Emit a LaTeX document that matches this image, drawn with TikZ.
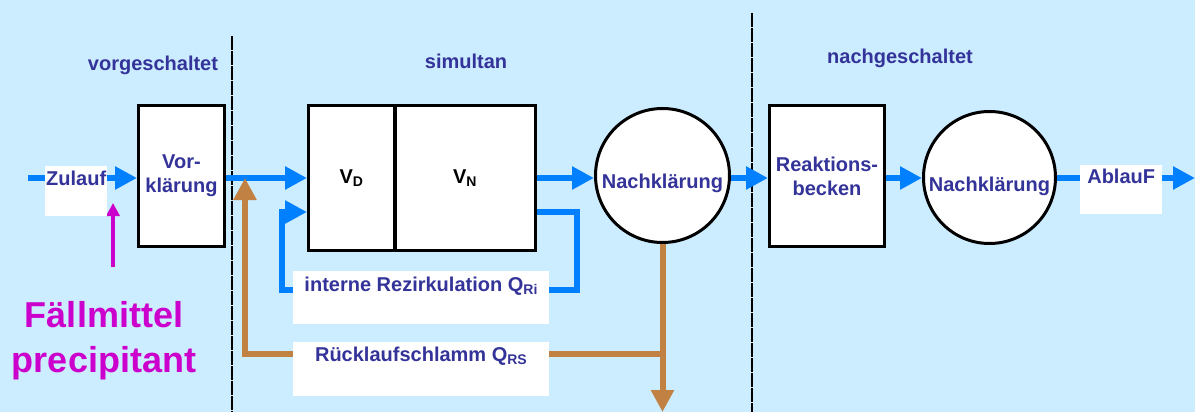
\documentclass[tikz,border=0pt]{standalone}
\usepackage{fontspec}
\setmainfont{Liberation Sans}
\usetikzlibrary{arrows.meta}
\definecolor{bgblue}{RGB}{204,236,255}
\definecolor{txtblue}{RGB}{51,51,153}
\definecolor{flowblue}{RGB}{0,128,255}
\definecolor{rsbrown}{RGB}{193,129,66}
\definecolor{dosing}{RGB}{204,0,204}
\newcommand{\lbl}{\fontsize{20}{24}\selectfont\bfseries}
\tikzset{
  tank/.style={draw=black, line width=3pt, fill=white, align=center, inner sep=0pt, font=\lbl, text=txtblue},
  basin/.style={tank, circle, text height=25pt, text depth=0pt},
  tbox/.style={fill=white, inner sep=0pt, anchor=north west, text height=19pt, text depth=31pt, font=\lbl, text=txtblue},
  zone/.style={anchor=base, inner sep=0pt, font=\lbl, text=txtblue},
  zonesep/.style={draw=black, line width=2.5pt, dash pattern=on 14pt off 1pt},
  flow/.style={draw=flowblue, line width=6pt, -{Triangle[length=22pt,width=22pt]}},
  rsflow/.style={draw=rsbrown, line width=6pt, -{Triangle[length=22pt,width=22pt]}},
  dose/.style={draw=dosing, line width=3.5pt, -{Triangle[length=13pt,width=13pt]}},
}
\begin{document}
\begin{tikzpicture}[x=1pt, y=-1pt]
  \fill[bgblue] (0,0) rectangle (1195,412);
  \useasboundingbox (0,0) rectangle (1195,412);

  \draw[zonesep] (232,36) -- (232,412);
  \draw[zonesep] (752,13) -- (752,412);

  \node[zone] (vorg)  at (153,71) {vorgeschaltet};
  \node[zone] (simu)  at (466,69) {simultan};
  \node[zone] (nachg) at (900,64) {nachgeschaltet};

  \node[tank, minimum width=86pt, minimum height=141pt] (vor) at (181.5,176) {Vor-\\klärung};
  \node[tank, text=black, minimum width=86pt, minimum height=145pt] (vd) at (351.5,178) {V\textsubscript{D}};
  \node[tank, text=black, minimum width=140pt, minimum height=145pt] (vn) at (465,178) {V\textsubscript{N}};
  \node[basin, minimum size=134pt] (nk1) at (662.5,175.5) {Nachklärung};
  \node[tank, minimum width=115pt, minimum height=141pt] (reak) at (827,176) {Reaktions-\\becken};
  \node[basin, minimum size=132pt, text height=27pt] (nk2) at (989.5,177.5) {Nachklärung};

  \coordinate (zin)  at (28,178);
  \coordinate (zout) at (1195,178);
  \coordinate (ri1)  at (577,290);
  \coordinate (ri2)  at (282,290);
  \coordinate (rs)   at (245,354);
  \coordinate (ue)   at (662.5,412);
  \coordinate (fmtail) at (113,267);
  \coordinate (fmtip)  at (113,203);

  \draw[flow] (zin) -- (zin -| vor.west);
  \draw[flow] (zin -| vor.east) -- (zin -| vd.west);
  \draw[flow] (zin -| vn.east) -- (zin -| nk1.west);
  \draw[flow] (zin -| nk1.east) -- (zin -| reak.west);
  \draw[flow] (zin -| reak.east) -- (zin -| nk2.west);
  \draw[flow] (zin -| nk2.east) -- (zout);
  \draw[flow] ([yshift=-34pt]vn.east) -| (ri1) -- (ri2) |- ([yshift=-34pt]vd.west);

  \draw[rsflow] (nk1.south) -- (ue);
  \draw[rsflow] (nk1.south |- rs) -- (rs) -- (rs |- zin);

  \draw[dose] (fmtail) -- (fmtip);

  \node[tbox, minimum width=62pt] (zul) at (45,166) {Zulauf};
  \node[tbox, minimum width=82pt, text height=18pt] (abl) at (1080,165) {AblauF};
  \node[tbox, minimum width=256pt, text height=20pt, text depth=33pt] (rezi) at (293,271) {interne Rezirkulation Q\textsubscript{Ri}};
  \node[tbox, minimum width=256pt, text depth=35pt] (rueck) at (293,342) {Rücklaufschlamm Q\textsubscript{RS}};

  \node[font=\fontsize{36}{45}\selectfont\bfseries, text=dosing, align=center, inner sep=0pt] (fm) at (104,340.5) {Fällmittel\\precipitant};
\end{tikzpicture}
\end{document}
